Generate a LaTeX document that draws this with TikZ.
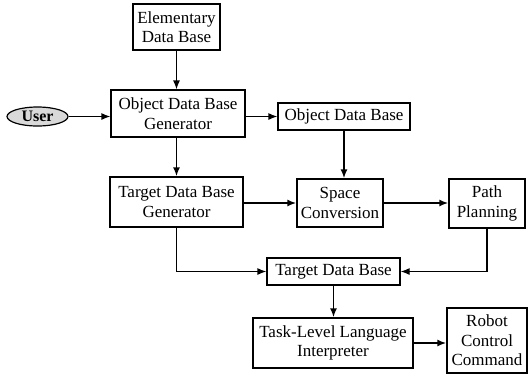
\documentclass[tikz,border=0pt]{standalone}
\usepackage{fontspec}
\setmainfont{Liberation Serif}
\usetikzlibrary{arrows.meta,shapes.geometric}
\begin{document}
\begin{tikzpicture}[x=1pt,y=-1pt,
  box/.style={draw,line width=1.2pt,align=center,inner sep=0pt,
    font=\fontsize{17}{19.5}\selectfont},
  conn/.style={line width=1.2pt,-{Latex[length=9pt,width=7pt]}},
  thick conn/.style={line width=1.8pt,-{Latex[length=9pt,width=7pt]}}]
\useasboundingbox (0,0) rectangle (528,376);
\node[box,minimum width=87pt,minimum height=46pt] (edb) at (176.5,27) {Elementary\\Data Base};
\node[box,minimum width=134pt,minimum height=47pt] (odbg) at (178,113.5) {Object Data Base\\Generator};
\node[draw,ellipse,line width=1.2pt,fill=gray!30,minimum width=61pt,minimum height=19pt,inner sep=0pt,
  font=\fontsize{16}{18}\bfseries] (user) at (37.5,116.5) {User};
\node[box,minimum width=133pt,minimum height=50pt] (tdbg) at (176.5,202) {Target Data Base\\Generator};
\node[box,minimum width=86pt,minimum height=48pt] (sc) at (340,203) {Space\\Conversion};
\node[box,minimum width=132pt,minimum height=27pt] (odb) at (344,116.5) {Object Data Base};
\node[box,minimum width=76pt,minimum height=49pt] (pp) at (487,203.5) {Path\\Planning};
\node[box,minimum width=133pt,minimum height=27pt] (tdb) at (333.5,271.5) {Target Data Base};
\node[box,minimum width=160pt,minimum height=50pt] (tli) at (333,343) {Task-Level Language\\Interpreter};
\node[box,minimum width=80pt,minimum height=65pt] (rcc) at (487,340.5) {Robot\\Control\\Command};

\draw[conn] (edb.south) -- (edb.south |- odbg.north);
\draw[conn] (user.east) -- (user.east -| odbg.west);
\draw[conn] (odb.west -| odbg.east) -- (odb.west);
\draw[thick conn] (odbg.south -| edb.south) -- (edb.south |- tdbg.north);
\draw[thick conn] (odb.south) -- (odb.south |- sc.north);
\draw[thick conn] (sc.west -| tdbg.east) -- (sc.west);
\draw[thick conn] (sc.east) -- (sc.east -| pp.west);
\draw[conn] (tdbg.south) |- (tdb.west);
\draw[conn] (pp.south) |- (tdb.east);
\draw[thick conn] (tdb.south) -- (tdb.south |- tli.north);
\draw[thick conn] (tli.east) -- (tli.east -| rcc.west);
\end{tikzpicture}
\end{document}
